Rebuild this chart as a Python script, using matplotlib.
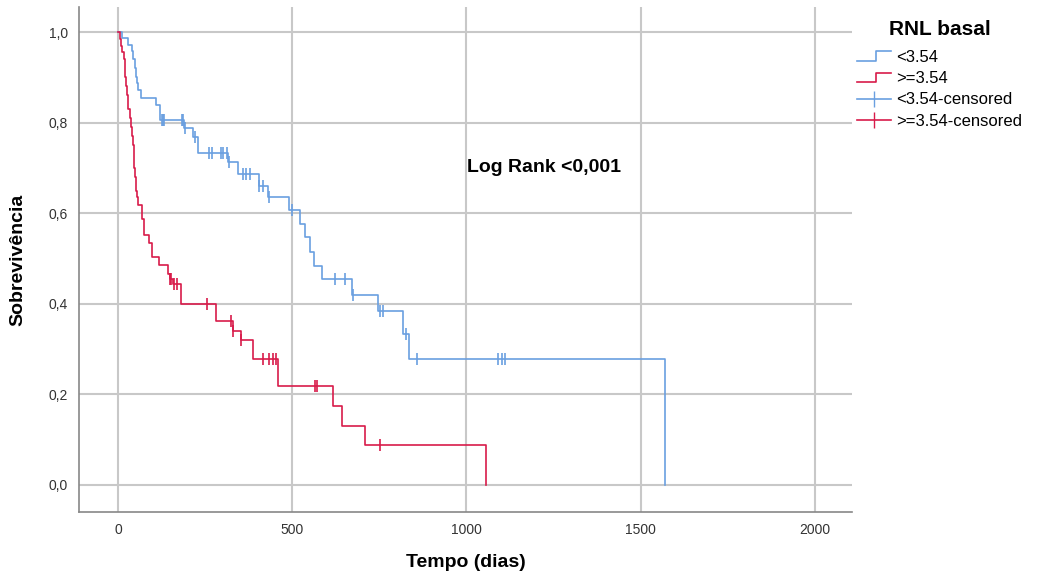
import matplotlib
matplotlib.use("Agg")
import matplotlib.pyplot as plt
from matplotlib.lines import Line2D
from matplotlib.legend_handler import HandlerBase
from matplotlib.ticker import FuncFormatter

plt.rcParams['font.family'] = ['Liberation Sans', 'DejaVu Sans']

# curva Kaplan-Meier, grupo <3.54 (tempo em dias, sobrevivência após o evento)
tempo_baixo = [0, 12, 29, 39, 44, 48, 51, 54, 57, 65, 109, 120, 188, 190, 216, 230,
               316, 345, 405, 431, 491, 522, 537, 551, 563, 585, 671, 745, 819, 835, 1570]
sobrev_baixo = [1.0, 0.987, 0.972, 0.958, 0.94, 0.92, 0.90, 0.887, 0.872, 0.854, 0.839,
                0.806, 0.797, 0.787, 0.769, 0.733, 0.713, 0.687, 0.661, 0.636, 0.606,
                0.576, 0.547, 0.515, 0.484, 0.455, 0.420, 0.383, 0.334, 0.279, 0.0]
cens_baixo = [125, 130, 133, 183, 187, 192, 221, 262, 269, 295, 302, 314, 318, 360, 367,
              379, 405, 415, 433, 498, 623, 651, 673, 752, 760, 826, 857, 1091, 1101, 1110]

# grupo >=3.54
tempo_alto = [0, 5, 8, 12, 17, 19, 21, 23, 25, 28, 30, 33, 36, 40, 43, 45, 47, 50, 52,
              55, 58, 70, 75, 90, 98, 118, 143, 148, 158, 181, 281, 329, 353, 387, 460,
              616, 642, 709, 1055]
sobrev_alto = [1.0, 0.985, 0.97, 0.955, 0.94, 0.92, 0.90, 0.88, 0.86, 0.845, 0.83, 0.81,
               0.79, 0.77, 0.75, 0.73, 0.70, 0.68, 0.65, 0.635, 0.619, 0.588, 0.551,
               0.534, 0.503, 0.486, 0.466, 0.455, 0.443, 0.399, 0.361, 0.340, 0.319,
               0.277, 0.218, 0.174, 0.131, 0.087, 0.0]
cens_alto = [148, 152, 162, 168, 255, 324, 330, 353, 417, 434, 444, 453, 565, 570, 752]

grupos = ['<3.54', '>=3.54']
cores = ['#6a9fe0', '#d81b4a']


def valor_em(tempos, sobrev, t):
    s = sobrev[0]
    for ti, si in zip(tempos, sobrev):
        if ti <= t:
            s = si
    return s


class HandlerDegrau(HandlerBase):
    # desenha o simbolo em forma de degrau, como no SPSS
    def create_artists(self, legend, orig_handle, xdescent, ydescent, width, height, fontsize, trans):
        x0 = -xdescent
        y0 = -ydescent
        xs = [x0, x0 + 0.55 * width, x0 + 0.55 * width, x0 + width]
        ys = [y0 + 0.1 * height, y0 + 0.1 * height, y0 + 0.9 * height, y0 + 0.9 * height]
        linha = Line2D(xs, ys, color=orig_handle.get_color(), lw=1.2, transform=trans)
        return [linha]


fig = plt.figure(figsize=(10.49, 5.79), dpi=100)
ax = fig.add_axes([0.0753, 0.1157, 0.7367, 0.872])

dados = [(tempo_baixo, sobrev_baixo, cens_baixo), (tempo_alto, sobrev_alto, cens_alto)]
for (tempos, sobrev, cens), cor in zip(dados, cores):
    ax.step(tempos, sobrev, where='post', color=cor, lw=1.2, zorder=3)
    ys = [valor_em(tempos, sobrev, t) for t in cens]
    ax.plot(cens, ys, ls='none', marker='|', ms=8, mew=1.2, color=cor, zorder=4)

ax.set_xlim(-112, 2106)
ax.set_ylim(-0.06, 1.055)
ax.set_xticks([0, 500, 1000, 1500, 2000])
ax.set_yticks([0, 0.2, 0.4, 0.6, 0.8, 1.0])
ax.yaxis.set_major_formatter(FuncFormatter(lambda v, p: f"{v:.1f}".replace('.', ',')))
ax.grid(True, color='#c8c8c8', lw=1.5, zorder=0)
ax.tick_params(length=0, labelsize=10, colors='#333333', pad=8)
for lado in ['top', 'right']:
    ax.spines[lado].set_visible(False)
for lado in ['left', 'bottom']:
    ax.spines[lado].set_color('#888888')
    ax.spines[lado].set_linewidth(1.2)

ax.set_xlabel('Tempo (dias)', fontsize=14, fontweight='bold', labelpad=12)
ax.set_ylabel('Sobrevivência', fontsize=14, fontweight='bold', labelpad=16)

ax.text(1001, 0.70, 'Log Rank <0,001', fontsize=14, fontweight='bold', va='center', ha='left')

handles = [Line2D([], [], color=cores[0]), Line2D([], [], color=cores[1]),
           Line2D([], [], color=cores[0], marker='|', ms=11, lw=1.2),
           Line2D([], [], color=cores[1], marker='|', ms=11, lw=1.2)]
labels = [grupos[0], grupos[1], grupos[0] + '-censored', grupos[1] + '-censored']
leg = fig.legend(handles, labels, loc='upper left', bbox_to_anchor=(0.803, 0.992),
                 frameon=False, fontsize=12, title='RNL basal', handlelength=2.0,
                 handletextpad=0.3, labelspacing=0.38,
                 handler_map={handles[0]: HandlerDegrau(), handles[1]: HandlerDegrau()})
leg.get_title().set_fontweight('bold')
leg.get_title().set_fontsize(15)
leg._legend_box.sep = 8

fig.savefig('out.png', dpi=100)
